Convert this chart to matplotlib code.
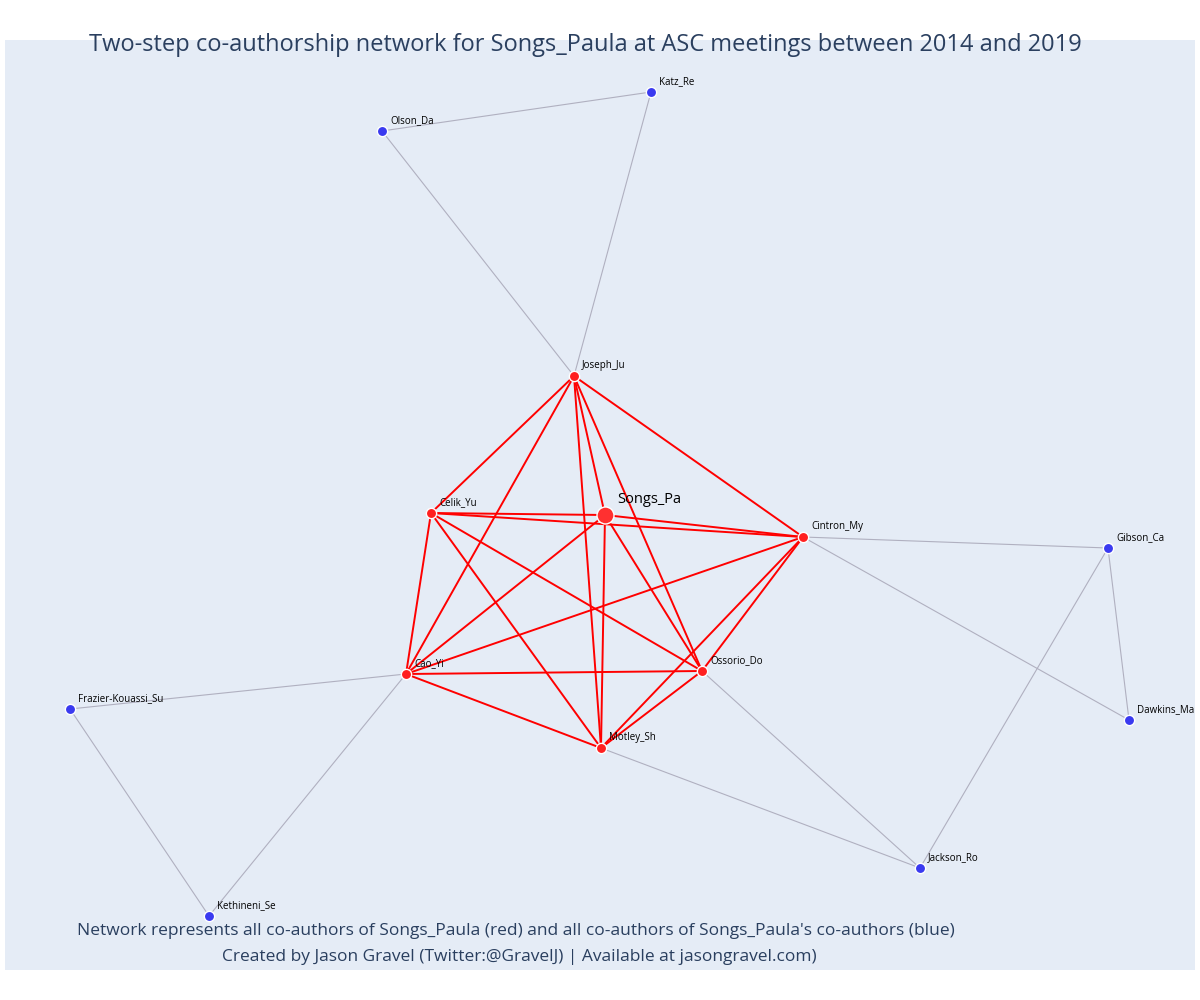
import matplotlib
matplotlib.use("Agg")
import matplotlib.pyplot as plt

names = ["Songs_Pa","Joseph_Ju","Celik_Yu","Cintron_My","Cao_Yi","Ossorio_Do","Motley_Sh",
         "Olson_Da","Katz_Re","Gibson_Ca","Dawkins_Ma","Jackson_Ro","Frazier-Kouassi_Su","Kethineni_Se"]
xs = [605,574,431,803,406,702,601,382,651,1108,1129,920,70,209]
ys = [515,376,513,537,674,671,748,131,92,548,720,868,709,916]
red = names[:7]
blue_edges = [("Olson_Da","Katz_Re"),("Olson_Da","Joseph_Ju"),("Katz_Re","Joseph_Ju"),
              ("Cintron_My","Gibson_Ca"),("Cintron_My","Dawkins_Ma"),("Gibson_Ca","Dawkins_Ma"),
              ("Gibson_Ca","Jackson_Ro"),("Ossorio_Do","Jackson_Ro"),("Motley_Sh","Jackson_Ro"),
              ("Cao_Yi","Frazier-Kouassi_Su"),("Cao_Yi","Kethineni_Se"),("Frazier-Kouassi_Su","Kethineni_Se")]
red_edges = [(a,b) for i,a in enumerate(red) for b in red[i+1:]]

pos = {n:(x,y) for n,x,y in zip(names,xs,ys)}
plt.rcParams['font.family'] = ['Open Sans','DejaVu Sans']
fig = plt.figure(figsize=(12,10), dpi=100)
ax = fig.add_axes([5/1200, 30/1000, 1190/1200, 930/1000])
ax.set_facecolor('#E5ECF6')
ax.set_xlim(5,1195); ax.set_ylim(970,40)
ax.set_xticks([]); ax.set_yticks([])
for s in ax.spines.values(): s.set_visible(False)
for a,b in blue_edges:
    ax.plot([pos[a][0],pos[b][0]],[pos[a][1],pos[b][1]],color='#B0B0C0',lw=0.8,zorder=1)
for a,b in red_edges:
    ax.plot([pos[a][0],pos[b][0]],[pos[a][1],pos[b][1]],color='red',lw=1.4,zorder=2)
for n in names:
    x,y = pos[n]
    if n == "Songs_Pa":
        ax.scatter(x,y,s=150,color='#FF3030',edgecolor='white',lw=1,zorder=3)
        ax.text(x+12,y-12,n,fontsize=10.5,color='black',zorder=4)
    else:
        c = '#FF2020' if n in red else '#3A3AF0'
        ax.scatter(x,y,s=55,color=c,edgecolor='white',lw=1,zorder=3)
        ax.text(x+8,y-8,n,fontsize=7,color='black',zorder=4)
fig.text(0.488,0.955,"Two-step co-authorship network for Songs_Paula at ASC meetings between 2014 and 2019",
         ha='center',va='center',fontsize=17,color='#2A3F5F')
fig.text(0.43,0.069,"Network represents all co-authors of Songs_Paula (red) and all co-authors of Songs_Paula's co-authors (blue)",
         ha='center',va='center',fontsize=12.5,color='#2A3F5F')
fig.text(0.433,0.043,"Created by Jason Gravel (Twitter:@GravelJ) | Available at jasongravel.com)",
         ha='center',va='center',fontsize=12.5,color='#2A3F5F')
fig.savefig("out.png",dpi=100,facecolor='white')
